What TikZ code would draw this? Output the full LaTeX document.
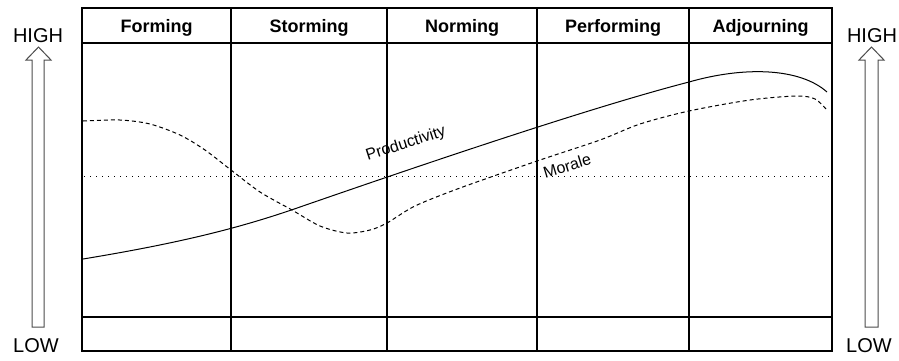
\documentclass[tikz,border=0pt]{standalone}
\usepackage{fontspec}
\setmainfont{Liberation Sans}
\begin{document}
\begin{tikzpicture}[x=1pt,y=-1pt,
		stage/.style={font=\bfseries\fontsize{18}{20}\selectfont,anchor=base},
		level/.style={font=\fontsize{20}{22}\selectfont,anchor=base},
		curvelabel/.style={font=\fontsize{16}{18}\selectfont},
		grid/.style={line width=1.2pt},
		blockarrow/.style={draw=black!70,line width=1pt,fill=white}]
		\useasboundingbox (0,0) rectangle (899,360);
		\draw[grid](82,8)rectangle(832,351);
		\draw[grid](82,43)--(832,43);
		\draw[grid](82,317)--(832,317);
		\draw[grid](231,8)--(231,351);
		\draw[grid](387,8)--(387,351);
		\draw[grid](537,8)--(537,351);
		\draw[grid](689,8)--(689,351);
		\draw[dash pattern=on 1.2pt off 4.8pt](84,176)--(830,176);
		\draw[line width=1pt](83,259)..controls(180,243)and(240,228)..(300,207)..controls(450,155)and(600,105)..(689,82)..controls(745,66)and(800,68)..(827,92);
		\draw[line width=1pt,dash pattern=on 4pt off 3pt] plot[smooth] coordinates{(83,121)(120,120)(150,124)(180,135)(205,150)(231,170)(260,192)(292,210)(320,226)(347,233)(370,230)(387,223)(415,206)(460,188)(537,161)(600,140)(640,124)(689,111)(750,100)(797,96)(815,99)(826,109)};
		\node[stage](forming) at(156.5,32){Forming};
		\node[stage](storming) at(309,32){Storming};
		\node[stage](norming) at(462,32){Norming};
		\node[stage](performing) at(613,32){Performing};
		\node[stage](adjourning) at(760.5,32){Adjourning};
		\node[curvelabel,rotate=18](productivity) at(406,144){Productivity};
		\node[curvelabel,rotate=17](morale) at(567,166){Morale};
		\draw[blockarrow](32,327)--(32,60)--(26,60)--(38.5,47)--(51,60)--(44,60)--(44,327)--cycle;
		\draw[blockarrow](865,327)--(865,60)--(859,60)--(871.5,47)--(884,60)--(878,60)--(878,327)--cycle;
		\node[level](highleft) at(38,42){HIGH};
		\node[level](lowleft) at(36,352){LOW};
		\node[level](highright) at(872,42){HIGH};
		\node[level](lowright) at(869,352){LOW};
\end{tikzpicture}
\end{document}
